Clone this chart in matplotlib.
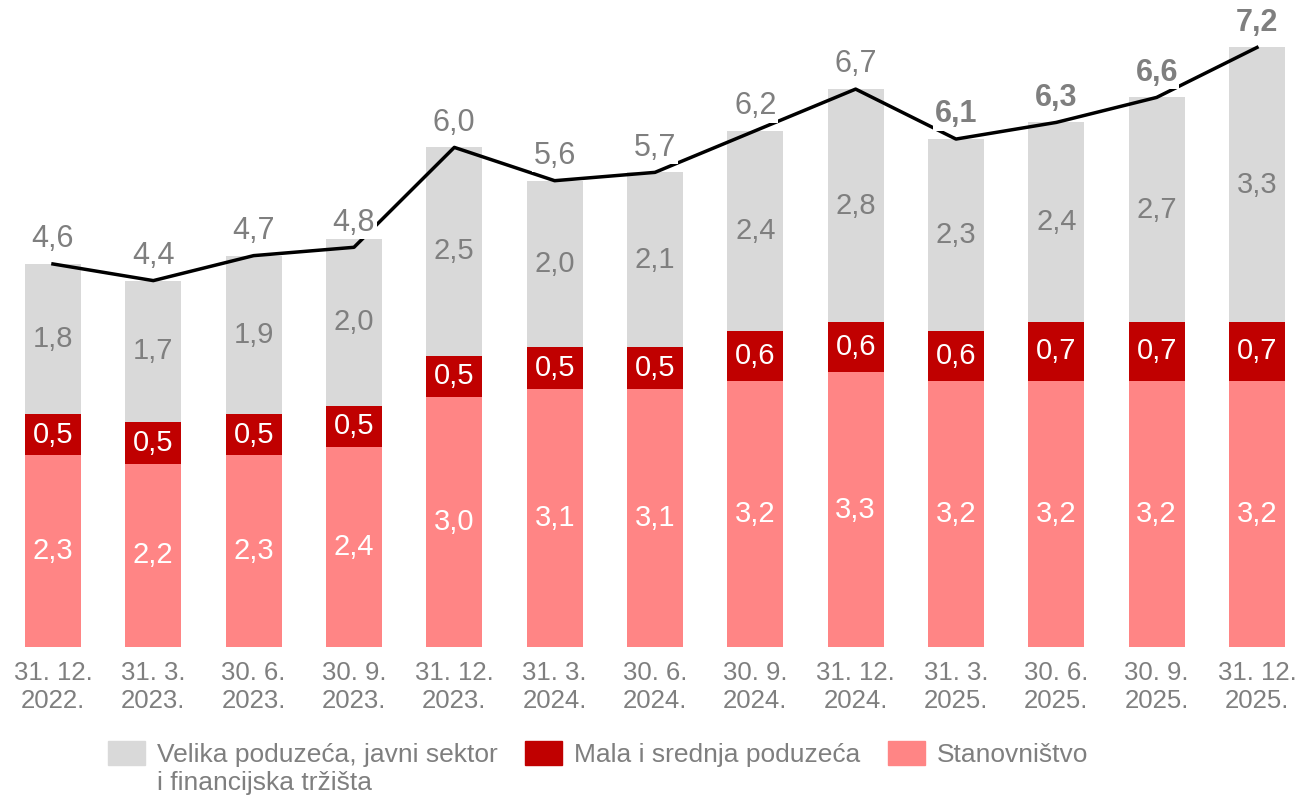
"""Stacked bars with total line."""

import matplotlib.pyplot as plt
import numpy as np
from matplotlib.patches import Patch

plt.rcParams["font.family"] = ["Liberation Sans", "DejaVu Sans"]

GREY_TXT = "#7f7f7f"

periods = ["31. 12.\n2022.", "31. 3.\n2023.", "30. 6.\n2023.", "30. 9.\n2023.",
           "31. 12.\n2023.", "31. 3.\n2024.", "30. 6.\n2024.", "30. 9.\n2024.",
           "31. 12.\n2024.", "31. 3.\n2025.", "30. 6.\n2025.", "30. 9.\n2025.",
           "31. 12.\n2025."]
stanovnistvo = [2.3, 2.2, 2.3, 2.4, 3.0, 3.1, 3.1, 3.2, 3.3, 3.2, 3.2, 3.2, 3.2]
mala_srednja = [0.5, 0.5, 0.5, 0.5, 0.5, 0.5, 0.5, 0.6, 0.6, 0.6, 0.7, 0.7, 0.7]
velika = [1.8, 1.7, 1.9, 2.0, 2.5, 2.0, 2.1, 2.4, 2.8, 2.3, 2.4, 2.7, 3.3]
ukupno = [4.6, 4.4, 4.7, 4.8, 6.0, 5.6, 5.7, 6.2, 6.7, 6.1, 6.3, 6.6, 7.2]
bold_from = 9  # last four totals are bold

series = [
    ("Stanovništvo", stanovnistvo, "#ff8585", "white"),
    ("Mala i srednja poduzeća", mala_srednja, "#c00000", "white"),
    ("Velika poduzeća, javni sektor", velika, "#d9d9d9", GREY_TXT),
]
velika_line2 = "i financijska tržišta"


def fmt(v):
    return f"{v:.1f}".replace(".", ",")


fig = plt.figure(figsize=(12.99, 7.96), dpi=100)
ax = fig.add_axes([0, 0.1872, 1, 0.8128])

x = np.arange(len(periods))
bottom = np.zeros(len(periods))
for name, vals, color, tcol in series:
    vals = np.array(vals)
    ax.bar(x, vals, 0.56, bottom=bottom, color=color, label=name, zorder=2)
    for xi, b, v in zip(x, bottom, vals):
        ax.text(xi, b + v / 2, fmt(v), ha="center", va="center",
                fontsize=21, color=tcol, zorder=3)
    bottom += vals

ax.plot(x, ukupno, color="black", lw=2.5, zorder=4)
for i, (xi, v) in enumerate(zip(x, ukupno)):
    ax.annotate(fmt(v), (xi, v), xytext=(0, 7), textcoords="offset points",
                ha="center", va="bottom", fontsize=22, color=GREY_TXT,
                fontweight="bold" if i >= bold_from else "normal",
                bbox=dict(boxstyle="square,pad=0.05", fc="white", ec="none"),
                zorder=5)

ax.set_xlim(-0.528, 12.419)
ax.set_ylim(0, 7.77)
ax.set_xticks(x)
ax.set_xticklabels(periods, fontsize=18.5, color=GREY_TXT)
ax.tick_params(axis="x", length=0, pad=10)
ax.set_yticks([])
for s in ax.spines.values():
    s.set_visible(False)

order = [2, 1, 0]
handles = [Patch(color=series[i][2]) for i in order]
labels = [series[i][0] for i in order]
leg = fig.legend(handles, labels, ncol=3, loc="center left",
                 bbox_to_anchor=(0.0831, 0.0528), frameon=False, fontsize=19,
                 handlelength=1.4, handleheight=1.02, handletextpad=0.45,
                 columnspacing=1.05, borderpad=0, borderaxespad=0)
for t in leg.get_texts():
    t.set_color(GREY_TXT)

# second line of the first legend label, under its first line
fig.canvas.draw()
bb = leg.get_texts()[0].get_window_extent()
W, H = fig.canvas.get_width_height()
fig.text(bb.x0 / W, (bb.y0 - 28) / H, velika_line2, ha="left", va="bottom",
         fontsize=19, color=GREY_TXT)

fig.savefig("out.png", dpi=100)
